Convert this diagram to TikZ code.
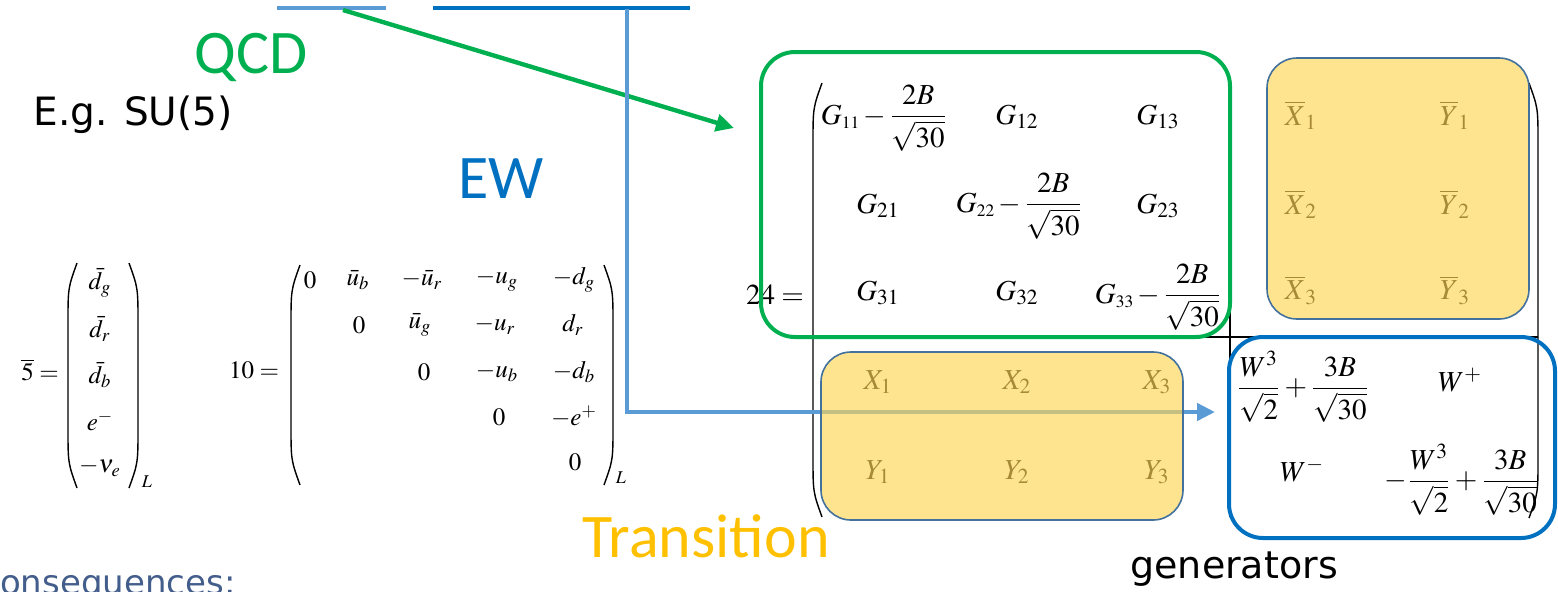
\documentclass[tikz,border=0pt]{standalone}
\usepackage{amsmath}
\usepackage{mathptmx}
\usepackage[no-math]{fontspec}
\setmainfont{Liberation Serif}
\newfontfamily\calfont{Carlito}
\newfontfamily\handfont{DejaVu Sans}
\usetikzlibrary{arrows.meta, positioning}
\definecolor{qcdgreen}{RGB}{0, 176, 80}
\definecolor{ewblue}{RGB}{0, 112, 192}
\definecolor{linkblue}{RGB}{91, 155, 213}
\definecolor{transyellow}{RGB}{255, 192, 0}
\definecolor{mixfill}{RGB}{255, 213, 85}
\definecolor{mixedge}{RGB}{65, 113, 156}
\definecolor{slideblue}{RGB}{68, 94, 140}
\newcommand{\twob}{\dfrac{2B}{\sqrt{30}}}
\newcommand{\threeb}{\dfrac{3B}{\sqrt{30}}}
\newcommand{\wthree}{\dfrac{W^3}{\sqrt{2}}}
\newcommand{\gdiag}[1]{G_{\scriptscriptstyle #1}\,{-}\,\twob}
\newcommand{\openbr}[3]{\draw[brk] (#1+9,#2) .. controls (#1,#2+25) .. (#1,#2+60) -- (#1,#3-60) .. controls (#1,#3-25) .. (#1+9,#3);}
\newcommand{\closebr}[3]{\draw[brk] (#1-9,#2) .. controls (#1,#2+25) .. (#1,#2+60) -- (#1,#3-60) .. controls (#1,#3-25) .. (#1-9,#3);}

\begin{document}
\begin{tikzpicture}[
	x=0.5pt, y=-0.5pt,
	>=Stealth,
	% Styles
	entry/.style={inner sep=0pt, font=\fontsize{12.5}{14}\selectfont},
	bentry/.style={inner sep=0pt, font=\fontsize{14.5}{17}\selectfont},
	subl/.style={inner sep=0pt, font=\fontsize{9}{11}\selectfont},
	word/.style={inner sep=0pt, anchor=base west, font=\calfont\fontsize{31}{36}\selectfont},
	hand/.style={inner sep=0pt, anchor=base west, font=\handfont\fontsize{19}{23}\selectfont},
	brk/.style={line width=0.7pt},
	bar/.style={line width=2.3pt},
	link/.style={line width=2.2pt, -{Triangle[length=9pt, width=8.5pt]}},
	qcdbox/.style={draw=qcdgreen, line width=2pt, rounded corners=17pt},
	ewbox/.style={draw=ewblue, line width=2pt, rounded corners=17pt},
	mixbox/.style={draw=mixedge, line width=0.8pt, fill=mixfill, fill opacity=0.65, rounded corners=15pt}
	]
	
	\useasboundingbox (0,0) rectangle (1558,591);
	\clip (0,0) rectangle (1558,591);
	
	% ==========================================
	% Left: the 5-bar and the 10
	% ==========================================
	
	\node[hand, font=\handfont\fontsize{19.5}{24}\selectfont] (egsu) at (33,125) {E.g. SU(5)};
	
	% 5-bar
	\node[entry] (fivelabel) at (40,370) {$\overline{5}=$};
	\openbr{68}{263}{488}
	\closebr{138}{263}{488}
	\foreach \e [count=\i] in {\bar d_g, \bar d_r, \bar d_b, e^-, -\nu_e}
		\node[entry] (five\i) at (100,{283+46*(\i-1)}) {$\e$};
	\node[subl] (fiveL) at (147,482) {$L$};
	
	% 10
	\node[entry] (tenlabel) at (254,370) {$10=$};
	\openbr{291}{265}{485}
	\closebr{613}{265}{485}
	\foreach \x/\y/\e/\n in {310/280/0/a1, 358/280/\bar u_b/a2, 422/280/-\bar u_r/a3, 497/280/-u_g/a4, 574/280/-d_g/a5,
		359/325/0/b2, 420/325/\bar u_g/b3, 495/325/-u_r/b4, 573/325/d_r/b5,
		424/372/0/c3, 497/372/-u_b/c4, 574/372/-d_b/c5,
		499/417/0/d4, 574/417/-e^+/d5,
		575/462/0/e5}
		\node[entry] (ten\n) at (\x,\y) {$\e$};
	\node[subl] (tenL) at (621,478) {$L$};
	
	% ==========================================
	% Right: the 24 (adjoint)
	% ==========================================
	
	\node[bentry] (twfour) at (775,295) {$24=$};
	\openbr{813}{83}{517}
	\closebr{1538}{83}{518}
	\draw[brk, line width=0.6pt] (1230,83) -- (1230,517);
	\draw[brk, line width=0.6pt] (813,337) -- (1538,337);
	
	% gluon block
	\node[bentry] (g11) at (884,118) {$\gdiag{11}$};
	\node[bentry] (g12) at (1017,117) {$G_{12}$};
	\node[bentry] (g13) at (1158,117) {$G_{13}$};
	\node[bentry] (g21) at (878,206) {$G_{21}$};
	\node[bentry] (g22) at (1019,206) {$\gdiag{22}$};
	\node[bentry] (g23) at (1158,206) {$G_{23}$};
	\node[bentry] (g31) at (878,293) {$G_{31}$};
	\node[bentry] (g32) at (1017,293) {$G_{32}$};
	\node[bentry] (g33) at (1158,297) {$\gdiag{33}$};
	
	% leptoquark blocks
	\foreach \r/\y in {1/115, 2/204, 3/290} {
		\node[bentry] (xb\r) at (1301,\y) {$\overline{X}_\r$};
		\node[bentry] (yb\r) at (1455,\y) {$\overline{Y}_\r$};
	}
	\foreach \c/\x in {1/878, 2/1017, 3/1157} {
		\node[bentry] (x\c) at (\x,382) {$X_\c$};
		\node[bentry] (y\c) at (\x,472) {$Y_\c$};
	}
	
	% electroweak block
	\node[bentry] (w11) at (1303,387) {$\wthree+\threeb$};
	\node[bentry] (w12) at (1460,380) {$W^+$};
	\node[bentry] (w21) at (1302,470) {$W^-$};
	\node[bentry] (w22) at (1462,480) {$-\wthree+\threeb$};
	
	% ==========================================
	% Bars, arrows and boxes
	% ==========================================
	
	\coordinate (lbarL) at (277,8);
	\coordinate (lbarR) at (386,8);
	\coordinate (dbarL) at (433,8);
	\coordinate (dbarR) at (690,8);
	\draw[bar, linkblue] (lbarL) -- (lbarR);
	\draw[bar, ewblue] (dbarL) -- (dbarR);
	
	\coordinate (qcdtail) at (343,10);
	\coordinate (qcdtip) at (734,128);
	\draw[link, qcdgreen] (qcdtail) -- (qcdtip);
	
	\coordinate (ewtail) at (627,9);
	\coordinate (ewtip) at (1215,412);
	\draw[link, linkblue] (ewtail) |- (ewtip);
	
	\draw[mixbox] (1267,58) rectangle (1529,319);
	\draw[mixbox] (821,352) rectangle (1183,520);
	\draw[qcdbox] (761,52) rectangle (1230,337);
	\draw[ewbox] (1229,337) rectangle (1555,538);
	
	% Labels
	\node[word, text=qcdgreen] (qcd) at (194,73) {QCD};
	\node[word, text=ewblue] (ew) at (458,198) {EW};
	\node[word, text=transyellow] (transition) at (582,557) {Transition};
	\node[hand] (generators) at (1130,578) {generators};
	\node[hand, text=slideblue, font=\handfont\fontsize{17}{20}\selectfont] (consequences) at (-24,594) {Consequences:};
	
\end{tikzpicture}
\end{document}
